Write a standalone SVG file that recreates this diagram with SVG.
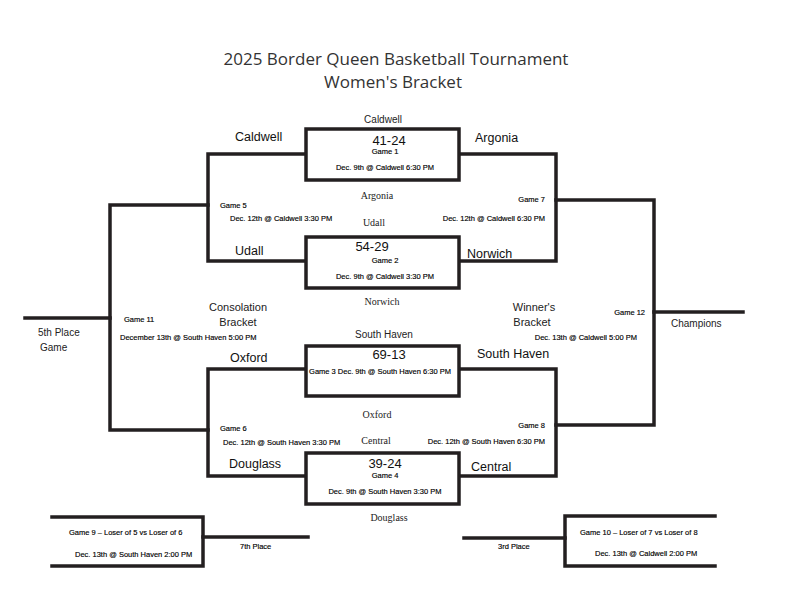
<svg xmlns="http://www.w3.org/2000/svg" width="808" height="607" viewBox="0 0 808 607">
<style>
.ln{fill:none;stroke:#231f20;stroke-width:3.5;stroke-linecap:square;stroke-linejoin:miter}
.box{fill:#fff;stroke:#231f20;stroke-width:3.5}
.title{font-family:"Open Sans","Liberation Sans",sans-serif;font-size:17px;fill:#333;text-anchor:middle}
.team{font-family:"Liberation Sans",Arial,sans-serif;font-size:12.5px;fill:#111}
.score{font-family:"Liberation Sans",Arial,sans-serif;font-size:13px;fill:#111;text-anchor:middle}
.sm{font-family:"Liberation Sans",Arial,sans-serif;font-size:7.5px;fill:#000;stroke:#000;stroke-width:0.15}
.mid{font-family:"Liberation Sans",Arial,sans-serif;font-size:10px;fill:#222}
.brk{font-size:11px}
.ser{font-family:"Liberation Serif","Times New Roman",serif;font-size:10px;fill:#222;text-anchor:middle}
.c{text-anchor:middle}
.e{text-anchor:end}
</style>
<rect width="808" height="607" fill="#fff"/>
<g id="title">
<text class="title" x="396" y="65">2025 Border Queen Basketball Tournament</text>
<text class="title" x="393" y="88">Women's Bracket</text>
</g>
<g id="connectors">
<polyline class="ln" points="306,154 208,154 208,261 306,261"/>
<polyline class="ln" points="459,154 556,154 556,261 459,261"/>
<polyline class="ln" points="306,369 208,369 208,476 306,476"/>
<polyline class="ln" points="459,369 556,369 556,476 459,476"/>
<polyline class="ln" points="208,205 110,205 110,430 208,430"/>
<line class="ln" x1="25" y1="318" x2="110" y2="318"/>
<polyline class="ln" points="556,200 654,200 654,425 556,425"/>
<line class="ln" x1="654" y1="312" x2="743" y2="312"/>
<polyline class="ln" points="52,517 203,517 203,566 52,566"/>
<line class="ln" x1="203" y1="537" x2="308" y2="537"/>
<polyline class="ln" points="715,516 565,516 565,566 715,566"/>
<line class="ln" x1="464" y1="538" x2="565" y2="538"/>
</g>
<g id="game1">
<rect class="box" x="306" y="129" width="153" height="51"/>
<text class="mid c" x="383" y="123">Caldwell</text>
<text class="score" x="389" y="145">41-24</text>
<text class="sm c" x="385" y="154">Game 1</text>
<text class="sm c" x="385" y="170">Dec. 9th @ Caldwell 6:30 PM</text>
<text class="team" x="235" y="141">Caldwell</text>
<text class="team" x="475" y="142">Argonia</text>
</g>
<g id="game2">
<rect class="box" x="306" y="237" width="153" height="51"/>
<text class="score" x="372" y="251">54-29</text>
<text class="sm c" x="385" y="263">Game 2</text>
<text class="sm c" x="385" y="279">Dec. 9th @ Caldwell 3:30 PM</text>
<text class="team" x="235" y="255">Udall</text>
<text class="team" x="467" y="258">Norwich</text>
<text class="ser" x="382" y="305">Norwich</text>
</g>
<g id="game5">
<text class="sm" x="220" y="208">Game 5</text>
<text class="sm" x="230" y="221">Dec. 12th @ Caldwell 3:30 PM</text>
<text class="ser" x="377" y="199">Argonia</text>
<text class="ser" x="374" y="226">Udall</text>
</g>
<g id="game7">
<text class="sm e" x="545" y="202">Game 7</text>
<text class="sm e" x="545" y="221">Dec. 12th @ Caldwell 6:30 PM</text>
</g>
<g id="game3">
<rect class="box" x="306" y="346" width="153" height="50"/>
<text class="mid c" x="384" y="338">South Haven</text>
<text class="score" x="389" y="359">69-13</text>
<text class="sm c" x="380" y="374">Game 3 Dec. 9th @ South Haven 6:30 PM</text>
<text class="team" x="230" y="362">Oxford</text>
<text class="team" x="477" y="358">South Haven</text>
</g>
<g id="game4">
<rect class="box" x="306" y="453" width="153" height="51"/>
<text class="score" x="385" y="468">39-24</text>
<text class="sm c" x="385" y="478">Game 4</text>
<text class="sm c" x="385" y="494">Dec. 9th @ South Haven 3:30 PM</text>
<text class="team" x="229" y="468">Douglass</text>
<text class="team" x="471" y="471">Central</text>
<text class="ser" x="389" y="521">Douglass</text>
</g>
<g id="game6">
<text class="sm" x="220" y="431">Game 6</text>
<text class="sm" x="223" y="445">Dec. 12th @ South Haven 3:30 PM</text>
<text class="ser" x="377" y="418">Oxford</text>
<text class="ser" x="376" y="444">Central</text>
</g>
<g id="game8">
<text class="sm e" x="545" y="428">Game 8</text>
<text class="sm e" x="545" y="444">Dec. 12th @ South Haven 6:30 PM</text>
</g>
<g id="game11">
<text class="mid brk c" x="238" y="311">Consolation</text>
<text class="mid brk c" x="238" y="326">Bracket</text>
<text class="sm" x="124" y="322">Game 11</text>
<text class="sm" x="120" y="340">December 13th @ South Haven 5:00 PM</text>
<text class="mid" x="38" y="336">5th Place</text>
<text class="mid" x="40" y="351">Game</text>
</g>
<g id="game12">
<text class="mid brk c" x="534" y="311">Winner's</text>
<text class="mid brk c" x="532" y="326">Bracket</text>
<text class="sm e" x="645" y="315">Game 12</text>
<text class="sm e" x="637" y="340">Dec. 13th @ Caldwell 5:00 PM</text>
<text class="mid" x="671" y="327">Champions</text>
</g>
<g id="game9">
<text class="sm" x="69" y="535">Game 9 – Loser of 5 vs Loser of 6</text>
<text class="sm" x="75" y="557">Dec. 13th @ South Haven 2:00 PM</text>
<text class="sm" x="240" y="549">7th Place</text>
</g>
<g id="game10">
<text class="sm" x="580" y="535">Game 10 – Loser of 7 vs Loser of 8</text>
<text class="sm" x="595" y="556">Dec. 13th @ Caldwell 2:00 PM</text>
<text class="sm" x="498" y="549">3rd Place</text>
</g>
</svg>
